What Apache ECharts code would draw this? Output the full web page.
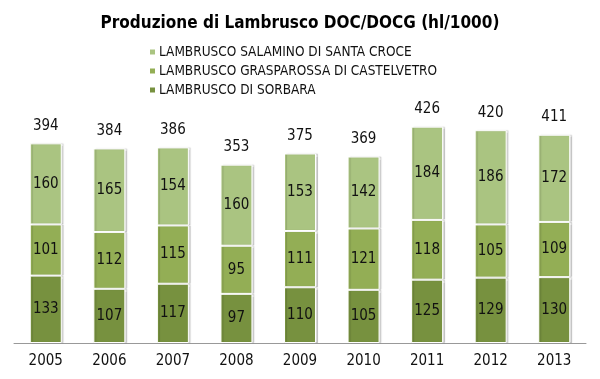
<!DOCTYPE html>
<html>
<head>
<meta charset="utf-8">
<script src="https://cdn.jsdelivr.net/npm/echarts@6/dist/echarts.min.js"></script>
<style>html,body{margin:0;padding:0;background:#fff}#c{width:600px;height:379px}</style>
</head>
<body>
<div id="c"></div>
<script>
var years = ['2005','2006','2007','2008','2009','2010','2011','2012','2013'];
var sorbara = [133,107,117,97,110,105,125,129,130];
var grasparossa = [101,112,115,95,111,121,118,105,109];
var salamino = [160,165,154,160,153,142,184,186,172];
var totals = [394,384,386,353,375,369,426,420,411];
var names = ['LAMBRUSCO SALAMINO DI SANTA CROCE','LAMBRUSCO GRASPAROSSA DI CASTELVETRO','LAMBRUSCO DI SORBARA'];

var FONT = "'DejaVu Sans Condensed', 'Liberation Sans', sans-serif";
var chart = echarts.init(document.getElementById('c'));
function seg(name, data, color) {
  return {
    name: name, type: 'bar', stack: 'a', data: data, barWidth: 32,
    itemStyle: { color: color, borderColor: '#fff', borderWidth: 1,
      shadowColor: 'rgba(0,0,0,0.15)', shadowBlur: 1, shadowOffsetX: 2 },
    label: { show: true, position: 'inside', color: '#111', fontSize: 15, fontFamily: FONT },
    emphasis: { disabled: true }
  };
}
chart.setOption({
  animation: false,
  title: { text: 'Produzione di Lambrusco DOC/DOCG (hl/1000)', left: 'center', top: 10,
    textStyle: { fontFamily: FONT, fontWeight: 'bold', fontSize: 17, color: '#000' } },
  legend: { orient: 'vertical', left: 143, top: 40, itemWidth: 7, itemHeight: 7, itemGap: 5,
    icon: 'rect', data: names,
    textStyle: { fontFamily: FONT, fontSize: 13.5, color: '#111', padding: [0,0,0,-2], lineHeight: 14 } },
  grid: { left: 14, right: 14, top: 115, bottom: 36 },
  xAxis: { type: 'category', data: years,
    axisLine: { lineStyle: { color: '#999', width: 1 } },
    axisTick: { show: false },
    axisLabel: { color: '#111', fontSize: 15, fontFamily: FONT, margin: 11 } },
  yAxis: { type: 'value', min: 0, max: 450, show: false, splitLine: { show: false } },
  series: [
    seg(names[2], sorbara, '#77913F'),
    seg(names[1], grasparossa, '#93AE55'),
    seg(names[0], salamino, '#AAC481'),
    { name: 'tot', type: 'bar', stack: 'a', barWidth: 32, data: totals.map(function(){return 0;}),
      itemStyle: { color: 'transparent' },
      label: { show: true, position: 'top', distance: 10, color: '#111', fontSize: 15, fontFamily: FONT,
        formatter: function(p){ return totals[p.dataIndex]; } },
      emphasis: { disabled: true } }
  ]
});
</script>
</body>
</html>
